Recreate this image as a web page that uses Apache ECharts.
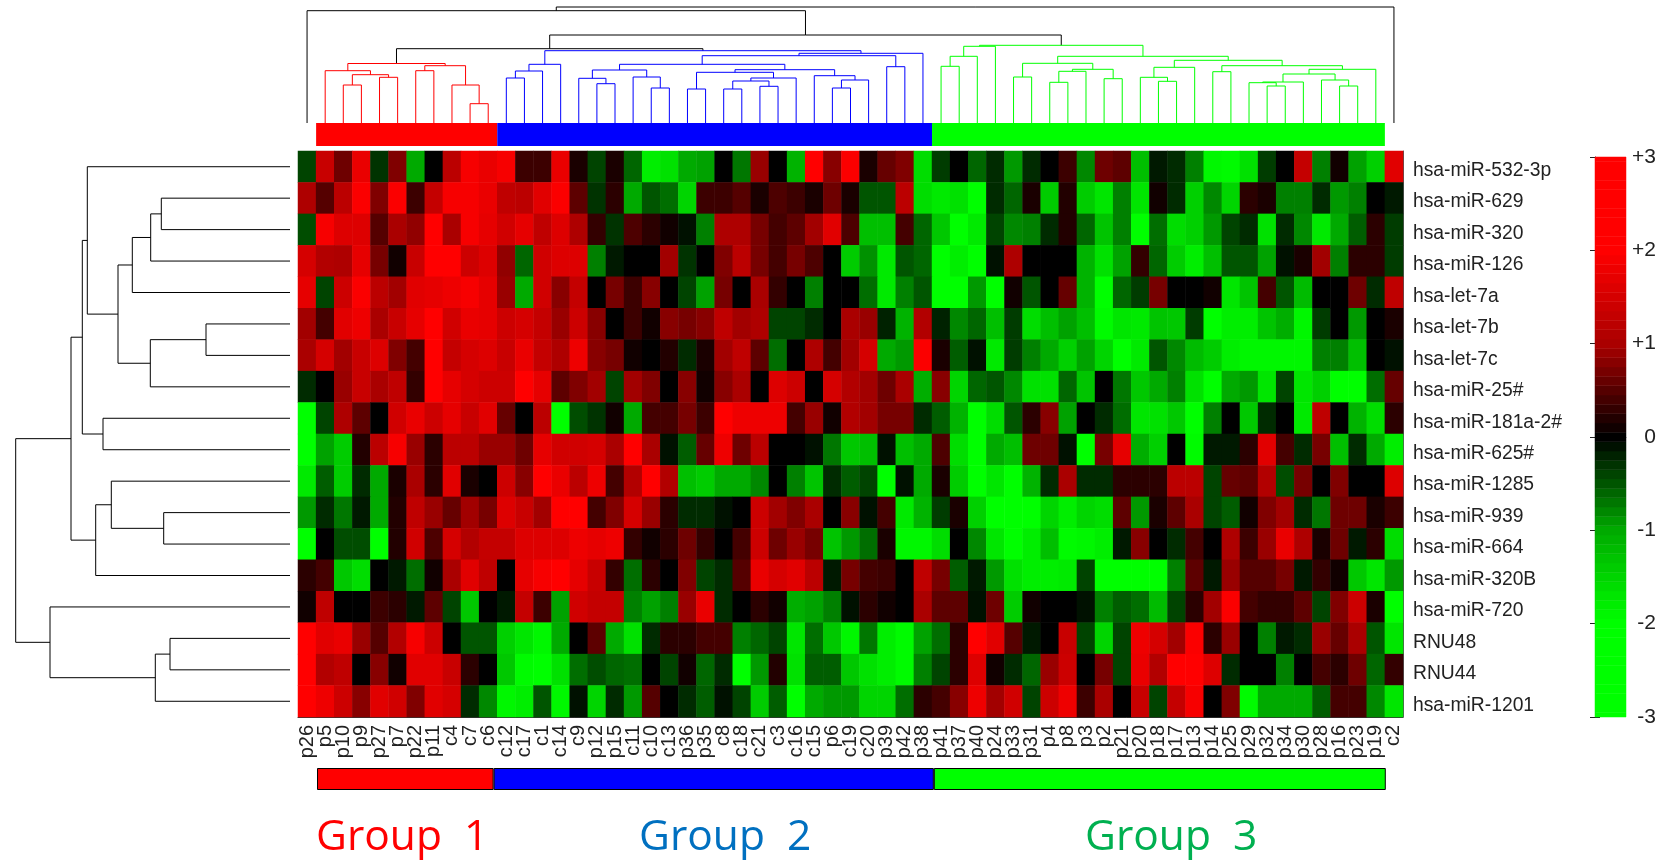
<!DOCTYPE html>
<html>
<head>
<meta charset="utf-8">
<style>html,body{margin:0;padding:0;background:#fff}#c{width:1663px;height:861px}</style>
<script src="https://cdn.jsdelivr.net/npm/echarts@6/dist/echarts.min.js"></script>
</head>
<body>
<div id="c"></div>
<script>
const samples = ['p26','p5','p10','p9','p27','p7','p22','p11','c4','c7','c6','c12','c17','c1','c14','c9','p12','p15','c11',
 'c10','c13','p36','p35','c8','c18','c21','c3','c16','c15','p6','c19','c20','p39','p42','p38','p41','p37','p40',
 'p24','p33','p31','p4','p8','p3','p2','p21','p20','p18','p17','p13','p14','p25','p29','p32','p34','p30','p28','p16','p23','p19','c2'];
const genes = ['hsa-miR-532-3p','hsa-miR-629','hsa-miR-320','hsa-miR-126','hsa-let-7a','hsa-let-7b','hsa-let-7c','hsa-miR-25#','hsa-miR-181a-2#','hsa-miR-625#','hsa-miR-1285','hsa-miR-939','hsa-miR-664','hsa-miR-320B','hsa-miR-720','RNU48','RNU44','hsa-miR-1201'];

const miR532 = [-.4,1.35,.65,1.75,-.3,.75,-1,0,1.2,1.9,1.75,1.9,.35,.35,1.75,.15,-.4,.15,-.6,
 -1.8,-1.65,-1,-.95,0,-.7,.9,0,-1.1,2.3,.8,1.95,.15,.6,.75,-1.6,-.35,0,-.6,
 -.25,-.9,-.25,0,.35,-.8,.65,.55,-1.25,-.15,-.25,-.75,-1.9,-1.95,-1.65,-.35,0,1.3,-.75,.1,-.95,-1.45,1.65];
const miR629 = [1.05,.5,1.2,1.95,.75,1.95,.35,1.3,1.9,1.9,1.75,1.25,1.2,1.65,1.95,.55,-.3,.25,-1,
 -.5,-.65,-1.5,.35,.35,.5,.15,.45,.35,.15,.65,.15,-.5,-.5,1.2,-1.6,-1.75,-1.65,-2.3,
 -.25,-.6,.15,-1.4,.2,-1.4,-1.7,-.75,-1.7,.1,-.25,-1.45,-.8,-1.5,.25,.15,-.75,-.75,-.25,-.9,-.75,0,-.15];
const miR320 = [-.45,1.9,1.6,1.6,.5,1,.85,2.3,1,1.9,1.7,1.45,1.7,1.25,1.6,1.05,.3,-.3,.45,
 .25,.1,-.1,-.75,1.05,1.05,.7,.4,.55,.95,1.65,.45,-1.25,-1.25,.4,-.6,-1.35,-2.3,-1.75,
 -.4,-.8,-.75,-.25,.2,-.6,-1.3,-.75,-2.3,-.65,-1.6,-1.45,-.9,-.4,-.25,-1.65,-.25,-.8,-1.75,-1,-.55,.25,-.35];
const miR126 = [1.5,1.1,1.05,1.7,.7,.1,1.35,2.3,2.3,1.4,1.6,.85,-.6,1.45,1.6,1.6,-.75,-.15,0,
 0,.95,-.3,0,.75,1.2,.7,.4,.7,.45,0,-1.4,-.85,-1.75,-.5,-.6,-2.3,-1.8,-2.3,
 -.1,1.05,0,0,0,-1.1,-1.65,-.95,.3,-.6,-1.4,-1.8,-1.25,-.5,-.5,-.95,-.1,.15,.95,-.75,.25,.25,-.35];
const let7a = [1.7,-.4,1.4,1.95,1.2,.95,1.65,1.7,1.8,1.9,1.7,.9,-1,1.45,.8,1.3,0,.7,.35,
 .8,0,-.4,-.95,.7,0,1,.3,0,-.75,0,0,-.65,-1.75,-.75,-.5,-2.3,-2.3,-.9,
 -2.3,.1,-.5,0,.6,-1.1,-2.3,-.6,-.35,.7,0,0,.1,-1.7,-1.3,.4,-.5,-1.2,0,0,.65,-.25,1.25];
const let7b = [.95,.4,1.65,1.8,1,1.35,1.7,2.3,1.45,1.75,1.7,1.4,1.5,1.3,.9,1.4,.8,0,.35,
 .1,.8,.7,.8,1.25,.95,1.05,-.4,-.4,-.25,0,1,.9,-.2,-1.1,1.1,-.2,-.8,-.6,
 -1.25,-.35,-1.6,-1.25,-.95,-1.25,-1.95,-1.7,-1.75,-1.3,-1.35,-.35,-2.3,-1.8,-1.8,-1.3,-1.05,-1.9,-.35,0,-.9,0,.15];
const let7c = [1,1.5,.95,1.35,1.6,.75,.4,2.3,1.3,1.5,1.6,1.35,1.75,1.3,1.05,1.8,.8,.7,.1,
 0,.2,-.25,.15,.95,1.25,.55,-.65,0,1.05,.4,.95,1.5,-1,-.9,1.95,.15,-.55,-.1,
 -1.75,-.35,-.75,-1,-1.45,-.95,-1.5,-2.3,-1.75,-.5,-.8,-1.2,-1.4,-1.8,-1.9,-1.9,-1.9,-1.9,-.75,-.75,-1.25,0,-.1];
const miR25 = [-.25,0,.9,1.35,1,1.25,.3,2.3,1.7,1.5,1.4,1.4,2.3,1.7,.55,.75,.95,-.4,.95,
 .75,0,.8,.1,.8,1,0,1.6,1.4,0,1.5,1.1,.95,.65,1,-1.05,.8,-1.5,-.6,
 -.5,-.8,-1.65,-1.65,-.6,-1.3,0,-.7,-1.35,-1,-.75,-1.65,-2.3,-1,-.9,-1.7,-.4,-1.7,-1.45,-2.3,-2.3,-.65,.6];
const miR181 = [-2.3,-.4,1.05,.55,0,1.45,1.75,1.4,1.7,1.35,1.65,.6,0,1.2,-2.3,-.45,-.3,.1,-1,
 .4,.4,.7,.35,2.3,1.8,1.8,1.8,.4,.9,.1,1.1,.95,.7,.7,-.25,-.55,-1.1,-2.3,
 -1.6,-.5,.25,.8,-.95,0,-.25,-.65,-1.7,-1.65,-1.35,-2.3,-.75,0,-1.35,-.25,0,-1.75,1.25,0,-1.1,-1.6,.25];
const miR625 = [-2.3,-.95,-1.4,.2,1.2,1.9,.9,.25,1.2,1.2,.9,.9,.65,1.7,1.45,1.45,1.5,1,2.3,
 1,-.1,-.55,.6,1.8,.65,1.2,0,0,-.1,-.7,-1.35,-1.25,-.1,-1.25,-1,.45,-1.6,-2.3,
 -1,-1.25,.65,.65,-.1,-2.3,.7,1.7,-1.05,-1.45,0,-1.95,-.15,-.15,.25,1.65,.4,-.25,.7,-1.25,-.25,-1,-1.8];
const miR1285 = [-1.75,-.55,-1.4,-.25,-1,.15,1,.25,1.65,.15,0,1.4,.8,2.3,1.75,1.2,1.8,.4,1.1,
 2.3,1.1,-1.25,-1.4,-1,-1,-.8,0,-.75,-1.3,-.25,-.55,-.4,-2.3,-.1,-1,.15,-1.4,-2.3,
 -1.7,-2.3,-1.1,-.25,1,-.25,-.25,.25,.25,.25,1.2,1.2,-.4,.6,.55,1.1,-.45,.7,0,.75,0,0,1.6];
const miR939 = [-.9,-.25,-.7,-.15,-1,.2,1.25,.9,.6,.95,.7,1.6,1.35,.95,2.3,2.3,.4,.75,1.5,
 .9,.25,-.25,-.25,-.1,0,1.4,.95,.75,1,0,.8,-.1,.4,-1.75,-1.1,-.35,.15,-1.45,
 -2.3,-2.3,-2.3,-1.5,-1.8,-1.5,-1.6,.55,-.9,.15,.55,1,-.4,-.55,.1,.75,.95,-.25,-.7,.65,.65,.15,.35];
const miR664 = [-2.3,0,-.45,-.45,-2.3,.2,1.45,.45,1.5,1.1,1.3,1.3,1.6,1.6,1.6,1.8,1.7,1.8,.3,
 .1,.25,.65,.3,0,.4,1.4,.65,.9,.7,-1.3,-.9,-.65,.15,-1.9,-1.9,-1.6,0,-.8,
 -1.7,-2.3,-1.8,-1.25,-1.95,-1.9,-1.8,-.15,.8,0,-.25,.4,0,1.05,.35,.9,1.75,1.05,.15,.65,-.15,.25,-1.6];
const miR320B = [.25,.4,-1.35,-1.6,0,-.15,-.65,.1,1,1.65,1.25,0,1.7,1.9,2.3,1.7,1.35,.3,-.65,
 .25,0,.75,-.4,-.25,.5,1.75,1.5,1.65,1.2,-.15,.7,.4,.35,0,1.25,.7,-.55,-.15,
 -.9,-1.65,-1.8,-1.8,-1.75,-.4,-2.3,-2.3,-2.3,-2.3,-.75,.55,-.15,.9,.5,.5,.7,-.15,.3,.1,-1.35,-1.7,-.9];
const miR720 = [.1,1.25,0,0,.35,.25,-.15,.55,-.4,-1.35,0,-.15,1.3,.35,-.95,1.45,1.3,1.3,-.75,
 -.95,-.75,.9,1.75,-.25,0,.25,.1,-1.05,-.95,-.75,-.1,.25,.1,0,1,.55,.55,-.1,
 .65,-1.4,.1,0,0,-.1,-.75,-.55,-.65,-1.2,-.4,.25,.95,1.95,.4,.3,.3,.55,-.4,.75,1.4,.15,-2.3];
const rnu48 = [2.3,1.65,1.75,.9,.5,1.1,1.9,1.4,0,-.5,-.5,-1.45,-1.7,-1.9,-1,0,.55,-1,-1.65,
 -.25,.25,.25,.4,.4,-.75,-.6,-.4,-1.7,-.65,-1.35,-1.9,-.7,-1.8,-1.95,-.95,-.65,.25,2.3,
 1.65,.5,-.15,0,1.35,-.4,-1.5,-.4,1.8,1.5,.95,1.95,.25,.9,0,-.75,-.15,-.25,.9,.6,1,-.5,-1.7];
const rnu44 = [2.3,1.1,1.25,0,.8,.1,1.65,1.65,1.35,.25,0,-1.35,-1.95,-2.3,-1.65,-.65,-.45,-.6,-.65,
 0,-.4,.1,-.6,-.25,-2.3,-.9,.2,-1.65,-.55,-.55,-1.35,-1.65,-1.8,-1.95,-.75,-.4,.25,1.6,
 .1,-.25,-.6,.9,1.4,0,.7,-.4,1.75,1.1,2.3,2.3,1.6,-.25,0,0,-.75,0,.4,.25,.65,-.6,.3];
const miR1201 = [2.3,1.8,1.4,.8,1.65,1.45,.75,1.65,1.5,-.25,-.8,-1.9,-1.8,-.5,-1.9,-.1,-1.5,-.25,-.9,
 .5,0,-.25,-.55,-.1,-.4,-1.4,-.55,-2.3,-1,-.9,-.9,-1.5,-1.5,-.65,.25,.4,.8,1.8,
 .95,1.45,-.4,1.4,1.8,.35,1,0,1.35,-.4,1.3,1.9,0,.75,-1.95,-1,-1,-1,-.55,.4,.4,-.8,-1.7];
const matrix = [miR532,miR629,miR320,miR126,let7a,let7b,let7c,miR25,miR181,miR625,miR1285,miR939,miR664,miR320B,miR720,rnu48,rnu44,miR1201];

// Column dendrogram: [merge height, left, right]; an integer is a column index.
const treeRed = [59.5,[52.3,1,[48.3,[38,2,3],[45.7,4,5]]],[57.3,[52.3,6,7],[38,8,[19.3,9,10]]]];
const treeBlue = [72.3,
 [58.7,[52,[45,11,12],13],14],
 [69.7,[67.3,[58.7,
   [53,[44.7,15,[39.3,16,17]],[46,18,[35,19,20]]],
   [53.3,[50.7,[34,21,22],[45,[42,[34,23,24],[36.7,25,26]],27]],[47.3,28,[43,[35,29,30],31]]]],
  [56.3,32,33]],34]];
const treeGreen = [77.7,
 [76.7,[66.7,[56.7,35,36],37],38],
 [66.7,
  [59.7,[46,39,40],[53.7,[51.7,[40.7,41,42],43],[44.3,44,45]]],
  [62.7,
   [55.7,[45.7,46,[41.7,47,48]],49],
   [57.3,[51.3,50,51],[53.7,[49,[41,[40.3,52,[37,53,54]],55],[43,56,[37,57,58]]],59]]]]];
const trunkHeights = {root:116, second:112.3, third:88, fourth:74.3};

// Row dendrogram: [merge depth from the left, upper, lower]; an integer is a row index.
const treeRows = [15.7,
 [71,
  [82.3,[87.3,0,[118,[132.3,[150.7,[161.3,1,2],3],4],[150.3,[206,5,6],7]]],[103,8,9]],
  [95.7,[111.3,10,[163.7,11,12]],13]],
 [50,14,[155.3,[170,15,16],17]]];

const groupColors = ['#ff0000','#0000ff','#00ff00'];
const topBarSizes = [10,24,25];
const bottomBarSizes = [9.75,24.3,24.95];
const legendTicks = {3:'+3',2:'+2',1:'+1',0:'0','-1':'-1','-2':'-2','-3':'-3'};

const heat = [];
matrix.forEach((row,r)=>row.forEach((v,c)=>{ if(c<samples.length) heat.push([c,r,v]); }));
const bands = [];
for(let i=-30;i<=30;i++) bands.push([0,i/10,i/10]);

function collect(node,out,color){
  if(typeof node==='number') return {x:node+.5,h:0};
  const a=collect(node[1],out,color), b=collect(node[2],out,color);
  out.push([a.x,b.x,node[0],a.h,b.h]);
  return {x:(a.x+b.x)/2,h:node[0]};
}
const redSeg=[],blueSeg=[],greenSeg=[],blackSeg=[];
const rn=collect(treeRed,redSeg), bn=collect(treeBlue,blueSeg), gn=collect(treeGreen,greenSeg);
const nC={x:(rn.x+bn.x)/2,h:trunkHeights.fourth}; blackSeg.push([rn.x,bn.x,nC.h,rn.h,bn.h]);
const nB={x:(nC.x+gn.x)/2,h:trunkHeights.third}; blackSeg.push([nC.x,gn.x,nB.h,nC.h,gn.h]);
const nA={x:(.5+nB.x)/2,h:trunkHeights.second}; blackSeg.push([.5,nB.x,nA.h,0,nB.h]);
blackSeg.push([nA.x,60.5,trunkHeights.root,nA.h,0]);

const rowSeg=[];
function collectRows(node){
  if(typeof node==='number') return {y:node+.5,d:290};
  const a=collectRows(node[1]), b=collectRows(node[2]);
  rowSeg.push([a.y,b.y,node[0],a.d,b.d]);
  return {y:(a.y+b.y)/2,d:node[0]};
}
collectRows(treeRows);

function topElbow(color,data,ax,ay){
  return {type:'custom',xAxisIndex:ax,yAxisIndex:ay,data:data,silent:true,clip:false,
    encode:{x:[0,1],y:[2,3,4]},
    renderItem:(p,api)=>{
      const x1=api.value(0),x2=api.value(1),h=api.value(2),h1=api.value(3),h2=api.value(4);
      const pts=[api.coord([x1,h1]),api.coord([x1,h]),api.coord([x2,h]),api.coord([x2,h2])];
      return {type:'polyline',shape:{points:pts},style:{fill:null,stroke:color,lineWidth:1}};
    }};
}
function sideElbow(color,data,ax,ay){
  return {type:'custom',xAxisIndex:ax,yAxisIndex:ay,data:data,silent:true,clip:false,
    encode:{y:[0,1],x:[2,3,4]},
    renderItem:(p,api)=>{
      const y1=api.value(0),y2=api.value(1),d=api.value(2),d1=api.value(3),d2=api.value(4);
      const pts=[api.coord([d1,y1]),api.coord([d,y1]),api.coord([d,y2]),api.coord([d2,y2])];
      return {type:'polyline',shape:{points:pts},style:{fill:null,stroke:color,lineWidth:1}};
    }};
}
function stackBars(sizes,start,ax,ay,bordered){
  const s=[{type:'bar',stack:'b'+ax,xAxisIndex:ax,yAxisIndex:ay,data:[start],barWidth:'100%',silent:true,itemStyle:{color:'transparent'}}];
  sizes.forEach((v,i)=>s.push({type:'bar',stack:'b'+ax,xAxisIndex:ax,yAxisIndex:ay,data:[v],barWidth:'100%',silent:true,
    itemStyle:{color:groupColors[i],borderColor:bordered?'#000':null,borderWidth:bordered?1:0}}));
  return s;
}
const hidden={show:false};
const off={axisLine:hidden,axisTick:hidden,axisLabel:hidden,splitLine:hidden};
const labelFont='"Liberation Sans", Arial, sans-serif';

const chart=echarts.init(document.getElementById('c'),null,{renderer:'canvas'});
chart.setOption({
  animation:false,
  backgroundColor:'#fff',
  title:[
    {text:'Group  1',left:311,top:811,textStyle:{color:'#ff0000',fontFamily:'"Open Sans"',fontSize:42.5,fontWeight:'normal'}},
    {text:'Group  2',left:634,top:811,textStyle:{color:'#0070c0',fontFamily:'"Open Sans"',fontSize:42.5,fontWeight:'normal'}},
    {text:'Group  3',left:1080,top:811,textStyle:{color:'#00b050',fontFamily:'"Open Sans"',fontSize:42.5,fontWeight:'normal'}}
  ],
  grid:[
    {left:298,top:151,width:1105,height:566},
    {left:298,top:0,width:1105,height:123},
    {left:0,top:151,width:290,height:566},
    {left:298,top:123,width:1105,height:23},
    {left:298,top:768,width:1105,height:22},
    {left:1595,top:157,width:31,height:560}
  ],
  xAxis:[
    {gridIndex:0,type:'category',data:samples,position:'bottom',splitLine:hidden,axisTick:hidden,
      axisLine:{show:true,lineStyle:{color:'#333',width:1}},
      axisLabel:{interval:0,rotate:90,margin:8,color:'#222',fontFamily:labelFont,fontSize:20}},
    {gridIndex:1,type:'value',min:0,max:61,...off},
    {gridIndex:2,type:'value',min:0,max:290,...off},
    {gridIndex:3,type:'value',min:0,max:61,...off},
    {gridIndex:4,type:'value',min:0,max:61,...off},
    {gridIndex:5,type:'value',min:0,max:1,splitLine:hidden,axisTick:hidden,axisLabel:hidden,
      axisLine:{show:true,lineStyle:{color:'#777'}}}
  ],
  yAxis:[
    {gridIndex:0,type:'category',data:genes,inverse:true,position:'right',splitLine:hidden,axisTick:hidden,
      axisLine:{show:true,lineStyle:{color:'#555',width:1}},
      axisLabel:{interval:0,margin:10,color:'#222',fontFamily:labelFont,fontSize:19.3,verticalAlign:'top',lineHeight:8}},
    {gridIndex:1,type:'value',min:0,max:123,...off},
    {gridIndex:2,type:'value',min:0,max:18,inverse:true,...off},
    {gridIndex:3,type:'category',data:['top'],...off},
    {gridIndex:4,type:'category',data:['bottom'],...off},
    {gridIndex:5,type:'value',min:-3,max:3,interval:1,position:'right',splitLine:hidden,
      axisLine:{show:true,lineStyle:{color:'#777'}},
      axisTick:{show:true,inside:true,length:5,lineStyle:{color:'#222'}},
      axisLabel:{margin:30,align:'right',color:'#222',fontFamily:labelFont,fontSize:21,
        formatter:v=>legendTicks[v]}},
    {gridIndex:5,type:'value',min:-3,max:3,interval:1,position:'left',splitLine:hidden,axisLabel:hidden,
      axisLine:{show:true,lineStyle:{color:'#777'}},
      axisTick:{show:true,inside:true,length:5,lineStyle:{color:'#222'}}}
  ],
  visualMap:{show:false,type:'continuous',min:-3,max:3,dimension:2,seriesIndex:[0,1],
    inRange:{color:['#00ff00','#00ff00','#00aa00','#000000','#aa0000','#ff0000','#ff0000']}},
  series:[
    {type:'heatmap',xAxisIndex:0,yAxisIndex:0,data:heat,silent:true,progressive:0,itemStyle:{borderWidth:0}},
    {type:'custom',xAxisIndex:5,yAxisIndex:5,data:bands,silent:true,encode:{x:0,y:1},z:1,
      renderItem:(p,api)=>{
        const v=api.value(1);
        const a=api.coord([0,Math.min(3,v+.05)]), b=api.coord([1,Math.max(-3,v-.05)]);
        const c=api.visual('color');
        return {type:'rect',shape:{x:a[0],y:a[1],width:b[0]-a[0],height:b[1]-a[1]},style:{fill:c,stroke:c,lineWidth:.5}};
      }},
    topElbow('#000000',blackSeg,1,1),
    topElbow('#ff0000',redSeg,1,1),
    topElbow('#0000ff',blueSeg,1,1),
    topElbow('#00ff00',greenSeg,1,1),
    sideElbow('#000000',rowSeg,2,2),
    ...stackBars(topBarSizes,1,3,3,false),
    ...stackBars(bottomBarSizes,1.05,4,4,true)
  ]
});
</script>
</body>
</html>
